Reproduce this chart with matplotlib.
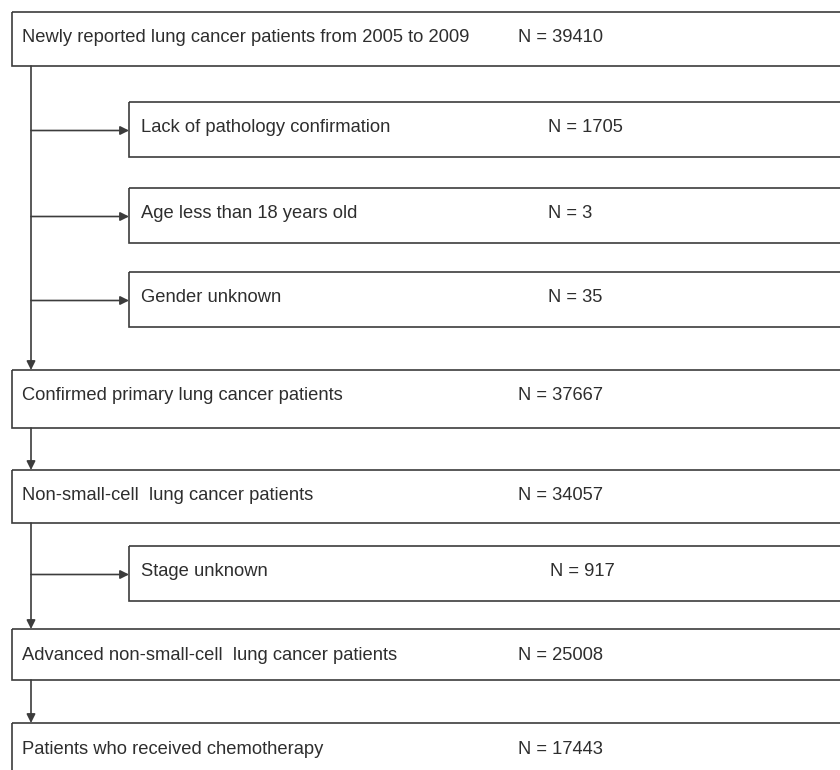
import matplotlib.pyplot as plt
from matplotlib.patches import Rectangle

# flowchart data
main_labels = ["Newly reported lung cancer patients from 2005 to 2009",
               "Confirmed primary lung cancer patients",
               "Non-small-cell  lung cancer patients",
               "Advanced non-small-cell  lung cancer patients",
               "Patients who received chemotherapy"]
main_counts = [39410, 37667, 34057, 25008, 17443]

excl_labels = ["Lack of pathology confirmation",
               "Age less than 18 years old",
               "Gender unknown",
               "Stage unknown"]
excl_counts = [1705, 3, 35, 917]

# layout (pixels)
main_top = [12, 370, 470, 629, 723]
main_bot = [66, 428, 523, 680, 800]
excl_top = [102, 188, 272, 546]
excl_bot = [157, 243, 327, 601]
excl_nx = [548, 548, 548, 550]

LINE = "#3c3c3c"
TXT = "#2e2e2e"
FS = 13.2
plt.rcParams['font.family'] = ['Liberation Sans', 'DejaVu Sans']

fig = plt.figure(figsize=(8.4, 7.7), dpi=100)
ax = fig.add_axes([0, 0, 1, 1])
ax.set_xlim(0, 840)
ax.set_ylim(770, 0)
ax.axis('off')

x_main, x_sub, x_trunk = 12, 129, 31


def arrow(x0, y0, x1, y1):
    ax.annotate("", xy=(x1, y1), xytext=(x0, y0),
                arrowprops=dict(arrowstyle="-|>", color=LINE, lw=1.2,
                                mutation_scale=13, shrinkA=0, shrinkB=0))


for i, (lab, n) in enumerate(zip(main_labels, main_counts)):
    t, b = main_top[i], main_bot[i]
    ax.add_patch(Rectangle((x_main, t), 850 - x_main, b - t, fill=False,
                           ec=LINE, lw=1.2))
    yc = t + 26
    ax.text(x_main + 10, yc, lab, fontsize=FS, color=TXT, va='center')
    ax.text(518, yc, "N = %d" % n, fontsize=FS, color=TXT, va='center')
    if i < len(main_labels) - 1:
        arrow(x_trunk, b, x_trunk, main_top[i + 1])

for j, (lab, n) in enumerate(zip(excl_labels, excl_counts)):
    t, b = excl_top[j], excl_bot[j]
    ax.add_patch(Rectangle((x_sub, t), 850 - x_sub, b - t, fill=False,
                           ec=LINE, lw=1.2))
    ym = (t + b) / 2 + 1
    ax.text(x_sub + 12, t + 26, lab, fontsize=FS, color=TXT, va='center')
    ax.text(excl_nx[j], t + 26, "N = %d" % n, fontsize=FS, color=TXT,
            va='center')
    arrow(x_trunk, ym, x_sub, ym)

fig.savefig("out.png", dpi=100, facecolor='white')
